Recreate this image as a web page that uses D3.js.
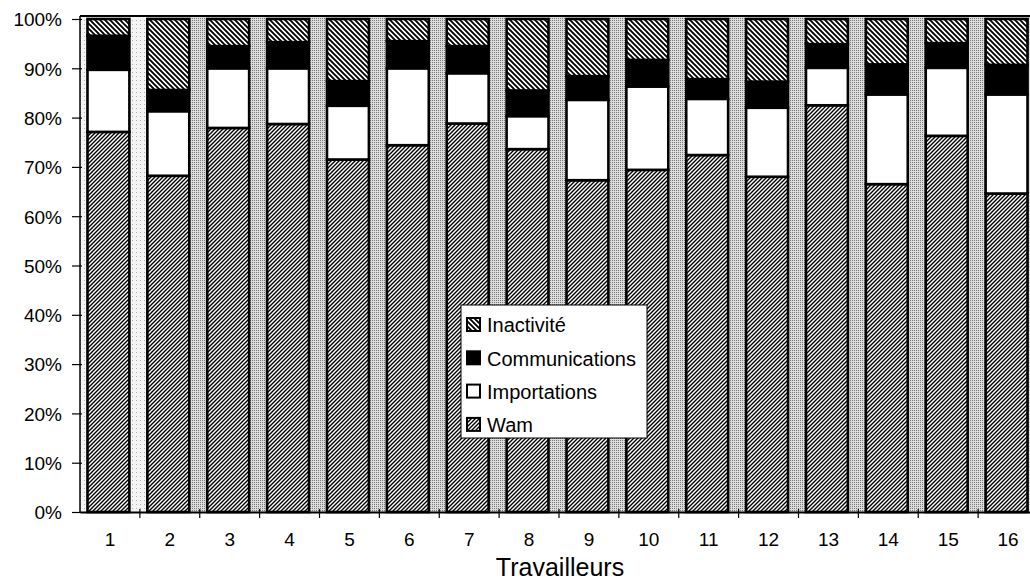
<!DOCTYPE html>
<html>
<head>
<meta charset="utf-8">
<script src="https://cdn.jsdelivr.net/npm/d3@7"></script>
<style>
  html, body { margin: 0; padding: 0; background: #fff; }
  svg { display: block; font-family: "Liberation Sans", Arial, sans-serif; }
</style>
</head>
<body>
<svg id="chart" width="1030" height="580"></svg>
<script>
const categories = ["1","2","3","4","5","6","7","8","9","10","11","12","13","14","15","16"];
const seriesNames = ["Wam","Importations","Communications","Inactivité"];
const wam   = [77.1, 68.2, 77.9, 78.7, 71.5, 74.4, 78.8, 73.6, 67.3, 69.4, 72.4, 68.0, 82.5, 66.5, 76.3, 64.6];
const importations = [12.6, 13.1, 12.1, 11.3, 10.9, 15.6, 10.2, 6.7, 16.3, 16.9, 11.4, 14.0, 7.6, 18.2, 13.8, 20.1];
const communications = [6.9, 4.3, 4.5, 5.3, 5.0, 5.5, 5.5, 5.2, 4.8, 5.4, 4.0, 5.3, 4.8, 6.1, 5.0, 6.0];
const inactivite = [3.4, 14.4, 5.5, 4.7, 12.6, 4.5, 5.5, 14.5, 11.6, 8.3, 12.2, 12.7, 5.1, 9.2, 4.9, 9.3];
const yTicks = [0,10,20,30,40,50,60,70,80,90,100];
const xTitle = "Travailleurs";
const legendOrder = ["Inactivité","Communications","Importations","Wam"];

(function(){
const svg = d3.select("#chart");
const pl = 80, pr = 1038, pt = 19, pb = 512;

const defs = svg.append("defs");
const pBg = defs.append("pattern").attr("id","stip").attr("patternUnits","userSpaceOnUse").attr("width",2).attr("height",2);
pBg.append("rect").attr("width",2).attr("height",2).attr("fill","#dcdcdc");
pBg.append("rect").attr("width",1).attr("height",1).attr("fill","#7a7a7a");
const pBg2 = defs.append("pattern").attr("id","stipLight").attr("patternUnits","userSpaceOnUse").attr("width",4).attr("height",4);
pBg2.append("rect").attr("width",4).attr("height",4).attr("fill","#f4f4f4");
pBg2.append("rect").attr("width",1).attr("height",1).attr("fill","#b0b0b0");
const pW = defs.append("pattern").attr("id","wam").attr("patternUnits","userSpaceOnUse").attr("width",4).attr("height",4);
pW.append("rect").attr("width",4).attr("height",4).attr("fill","#fff");
pW.append("path").attr("d","M-1,1 l2,-2 M0,4 l4,-4 M3,5 l2,-2").attr("stroke","#000").attr("stroke-width",1.4);
const pI = defs.append("pattern").attr("id","inact").attr("patternUnits","userSpaceOnUse").attr("width",5).attr("height",5);
pI.append("rect").attr("width",5).attr("height",5).attr("fill","#fff");
pI.append("path").attr("d","M-1,4 l2,2 M0,0 l5,5 M4,-1 l2,2").attr("stroke","#000").attr("stroke-width",1.9);

const fills = {"Wam":"url(#wam)","Importations":"#fff","Communications":"#000","Inactivité":"url(#inact)"};

const x = d3.scaleBand().domain(categories).range([pl, pr]).paddingInner(0).paddingOuter(0);
const y = d3.scaleLinear().domain([0,100]).range([pb, pt]);

svg.append("rect").attr("x",pl).attr("y",pt-3).attr("width",pr-pl).attr("height",pb-pt+3).attr("fill","url(#stip)");
svg.append("rect").attr("x",pl).attr("y",pt-3).attr("width",x.bandwidth()+7).attr("height",pb-pt+3).attr("fill","url(#stipLight)");

const rows = categories.map((c,i) => ({cat:c, "Wam":wam[i], "Importations":importations[i], "Communications":communications[i], "Inactivité":inactivite[i]}));
const stack = d3.stack().keys(seriesNames)(rows);
const barW = x.bandwidth()*0.7;
const barOff = (x.bandwidth()-barW)/2 - 1.5;

svg.append("g").selectAll("g").data(stack).join("g")
  .attr("fill", d => fills[d.key])
  .selectAll("rect").data(d => d).join("rect")
  .attr("x", d => x(d.data.cat) + barOff)
  .attr("width", barW)
  .attr("y", d => y(Math.min(d[1],100)))
  .attr("height", d => y(d[0]) - y(Math.min(d[1],100)))
  .attr("stroke","#000").attr("stroke-width",2.6);

svg.append("line").attr("x1",pl).attr("x2",pr).attr("y1",pt-3).attr("y2",pt-3).attr("stroke","#000").attr("stroke-width",2);

const yAxis = d3.axisLeft(y).tickValues(yTicks).tickFormat(d => d + "%").tickSizeInner(8).tickSizeOuter(0);
const gy = svg.append("g").attr("transform",`translate(${pl},0)`).call(yAxis);
gy.select(".domain").attr("stroke","#000").attr("stroke-width",1.5).attr("d",`M0,${pt-3}V${pb}`);
gy.selectAll(".tick line").attr("stroke","#000").attr("stroke-width",1.2).attr("x1",2);
gy.selectAll(".tick text").attr("font-size",19).attr("fill","#000").attr("x",-18).attr("dy","0.36em")
  .attr("font-family","Liberation Sans, Arial, sans-serif");

const xAxis = d3.axisBottom(x).tickSize(0).tickPadding(21);
const gx = svg.append("g").attr("transform",`translate(0,${pb})`).call(xAxis);
gx.select(".domain").attr("stroke","#000").attr("stroke-width",2);
gx.selectAll(".tick text").attr("font-size",19).attr("fill","#000").attr("font-family","Liberation Sans, Arial, sans-serif");
svg.append("g").selectAll("line").data(categories.slice(1)).join("line")
  .attr("x1", d => x(d)).attr("x2", d => x(d))
  .attr("y1", pb - 3).attr("y2", pb + 6)
  .attr("stroke","#000").attr("stroke-width",1.2);

svg.append("text").attr("x",560).attr("y",576).attr("text-anchor","middle")
  .attr("font-size",25).attr("fill","#000").text(xTitle);

const lg = svg.append("g").attr("transform","translate(461,305)");
lg.append("rect").attr("width",186).attr("height",133).attr("fill","#fff").attr("stroke","#000").attr("stroke-width",1);
legendOrder.forEach((name,i) => {
  const cy = 19 + i*33.3;
  lg.append("rect").attr("x",6).attr("y",cy-6).attr("width",13).attr("height",13)
    .attr("fill",fills[name]).attr("stroke","#000").attr("stroke-width",2);
  lg.append("text").attr("x",26).attr("y",cy+1).attr("dy","0.36em").attr("font-size",20).attr("fill","#000").text(name);
});
})();
</script>
</body>
</html>
